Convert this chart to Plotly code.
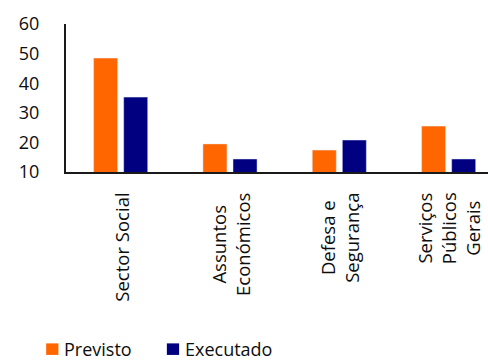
import plotly.graph_objects as go

# Budget execution by function: planned vs executed
categories = ["Sector Social", "Assuntos<br>Económicos", "Defesa e<br>Segurança", "Serviços<br>Públicos<br>Gerais"]
previsto = [48.5, 19.5, 17.4, 25.5]
executado = [35.3, 14.4, 20.8, 14.4]
y_ticks = [10, 20, 30, 40, 50, 60]

series = [("Previsto", previsto, "#FF6600"), ("Executado", executado, "#000080")]

FONT = "Open Sans"
TXT = "#0d0d0d"
x_idx = list(range(len(categories)))

fig = go.Figure()
for name, vals, color in series:
    fig.add_bar(x=x_idx, y=vals, name=name, marker_color=color)

# Category labels, rotated, lines centred
for i, label in enumerate(categories):
    fig.add_annotation(
        x=i, y=-0.125, xref="x", yref="paper",
        text=label, textangle=-90, showarrow=False,
        xanchor="center", yanchor="top", align="center",
        font=dict(family=FONT, size=18.5, color=TXT),
    )

# Compact legend below the chart
legend_x = [(-0.047, -0.0095), (0.239, 0.277)]
for (name, _, color), (sq_x, tx) in zip(series, legend_x):
    fig.add_shape(type="rect", xref="paper", yref="paper",
                  x0=sq_x, x1=sq_x + 0.029, y0=-1.236, y1=-1.158,
                  fillcolor=color, line_width=0)
    fig.add_annotation(x=tx, y=-1.193, xref="paper", yref="paper",
                       text=name, showarrow=False, xanchor="left", yanchor="middle",
                       font=dict(family=FONT, size=18, color=TXT))

fig.update_layout(
    width=488, height=361,
    margin=dict(l=66, r=0, t=24, b=189),
    paper_bgcolor="white", plot_bgcolor="white",
    barmode="group", bargap=0.45, bargroupgap=0.2,
    font=dict(family=FONT, size=18, color=TXT),
    showlegend=False,
    xaxis=dict(
        range=[-0.5, 3.36], showticklabels=False, showgrid=False,
        showline=True, linecolor="#1a1a1a", linewidth=2, zeroline=False,
    ),
    yaxis=dict(
        range=[10, 60], tickvals=y_ticks, showgrid=False,
        showline=True, linecolor="#1a1a1a", linewidth=2, zeroline=False,
        ticks="", ticklabelstandoff=21,
        tickfont=dict(family=FONT, size=18, color=TXT),
    ),
)

fig.write_html("out.html")
